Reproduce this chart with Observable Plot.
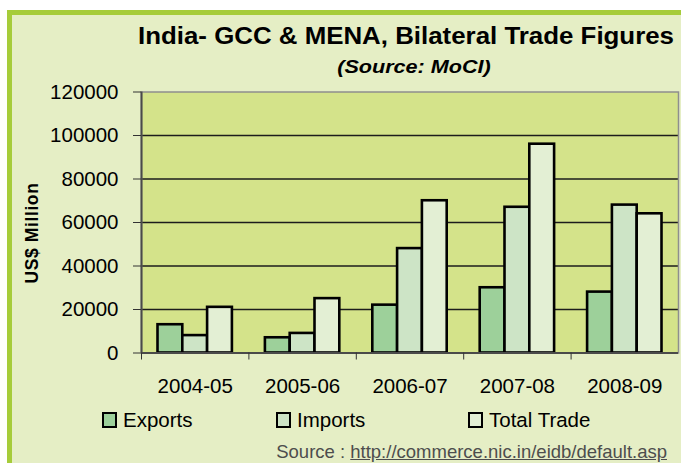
<!DOCTYPE html>
<html>
<head>
<meta charset="utf-8">
<script src="https://cdn.jsdelivr.net/npm/d3@7"></script>
<script src="https://cdn.jsdelivr.net/npm/@observablehq/plot@0.6"></script>
<style>
  html, body { margin: 0; padding: 0; background: #ffffff; overflow: hidden; }
  #wrap { position: relative; width: 681px; height: 463px; font-family: "Liberation Sans", Arial, sans-serif; }
  #panel { position: absolute; left: 7px; top: 10px; width: 674px; height: 453px; box-sizing: border-box;
           background: #e5eec5; border-left: 5px solid #a6cc3a; border-top: 5px solid #a6cc3a; }
  .abs { position: absolute; white-space: nowrap; line-height: 1; }
  #title { left: 406px; top: 25.3px; transform: translateX(-50%) scaleX(1.11); font-weight: bold; font-size: 23.3px; color: #000; }
  #subtitle { left: 414px; top: 58.1px; transform: translateX(-50%) scaleX(1.2); font-weight: bold; font-style: italic; font-size: 18px; color: #000; }
  #ylabel { left: 33px; top: 232.5px; transform: translate(-50%, -50%) rotate(-90deg); font-weight: bold; font-size: 17.5px; letter-spacing: 0.6px; color: #000; }
  #chart { position: absolute; left: 0; top: 75px; }
  .sw { position: absolute; width: 15px; height: 16px; box-sizing: border-box; border: 2.2px solid #000; }
  .lt { position: absolute; top: 409.6px; font-size: 20.5px; line-height: 1; white-space: nowrap; color: #000; }
  #source { right: 14px; top: 443.3px; font-size: 18.5px; color: #4d4d4d; }
  #source u { text-decoration: underline; }
</style>
</head>
<body>
<div id="wrap">
  <div id="panel"></div>
  <div id="title" class="abs">India- GCC &amp; MENA, Bilateral Trade Figures</div>
  <div id="subtitle" class="abs">(Source: MoCI)</div>
  <div id="ylabel" class="abs">US$ Million</div>
  <div id="chart"></div>
  <div id="legend"></div>
  <div id="source" class="abs">Source : <u>http://commerce.nic.in/eidb/default.asp</u></div>
</div>
<script>
// ---- data ----
const years = ["2004-05", "2005-06", "2006-07", "2007-08", "2008-09"];
const seriesNames = ["Exports", "Imports", "Total Trade"];
const exportsVals = [13000, 7000, 22000, 30000, 28000];
const importsVals = [8000, 9000, 48000, 67000, 68000];
const totalVals = [21000, 25000, 70000, 96000, 64000];
const yTicks = [0, 20000, 40000, 60000, 80000, 100000, 120000];
const colors = ["#9dd09a", "#cde4c6", "#e3efd4"];

const seriesVals = [exportsVals, importsVals, totalVals];
const rows = seriesNames.flatMap((s, i) => years.map((y, j) => ({year: y, series: s, value: seriesVals[i][j]})));

// ---- layout ----
const W = 681, H = 325, mL = 141, mR = 3, mT = 16.5, mB = 47.5;
const bw = (W - mL - mR) / years.length;
const pad = 16.5, barW = 24.8;

const bars = seriesNames.map((s, i) =>
  Plot.barY(rows.filter(r => r.series === s), {
    x: "year", y: "value",
    fill: colors[i], stroke: "#000", strokeWidth: 2.6,
    insetLeft: pad + i * barW,
    insetRight: bw - pad - (i + 1) * barW
  })
);

const chart = Plot.plot({
  width: W, height: H,
  marginLeft: mL, marginRight: mR, marginTop: mT, marginBottom: mB,
  style: {background: "transparent", fontSize: "20.5px", fontFamily: "'Liberation Sans', Arial, sans-serif", color: "#000", overflow: "visible"},
  x: {type: "band", domain: years, padding: 0, round: false, label: null},
  y: {domain: [0, 120000], label: null},
  marks: [
    Plot.frame({fill: "#d4e38a", stroke: null}),
    Plot.ruleY(yTicks.filter(v => v > 0 && v < 120000), {stroke: "#1c1c1c", strokeWidth: 1.4}),
    ...bars,
    Plot.frame({stroke: "#8e8e8e", strokeWidth: 1.5}),
    Plot.ruleY([0], {stroke: "#4a4a4a", strokeWidth: 2}),
    Plot.ruleX([years[0]], {dx: -bw / 2, y1: 0, y2: 120000, stroke: "#4a4a4a", strokeWidth: 2}),
    Plot.axisY({ticks: yTicks, tickSize: 8, tickPadding: 15, tickFormat: d3.format("d"), label: null, stroke: "#333", fill: "#000"}),
    Plot.axisX({tickSize: 0, tickPadding: 25.5, label: null, fill: "#000"}),
    Plot.axisX({tickSize: 7, tickFormat: () => "", dx: -bw / 2, label: null, stroke: "#333"})
  ]
});
document.getElementById("chart").appendChild(chart);

// ---- legend ----
const legend = document.getElementById("legend");
const swX = [102, 276, 468];
const txX = [123, 297, 489];
seriesNames.forEach((s, i) => {
  const sw = document.createElement("div");
  sw.className = "sw";
  sw.style.left = swX[i] + "px";
  sw.style.top = "412px";
  sw.style.background = colors[i];
  legend.appendChild(sw);
  const t = document.createElement("div");
  t.className = "lt";
  t.style.left = txX[i] + "px";
  t.textContent = s;
  legend.appendChild(t);
});
</script>
</body>
</html>
